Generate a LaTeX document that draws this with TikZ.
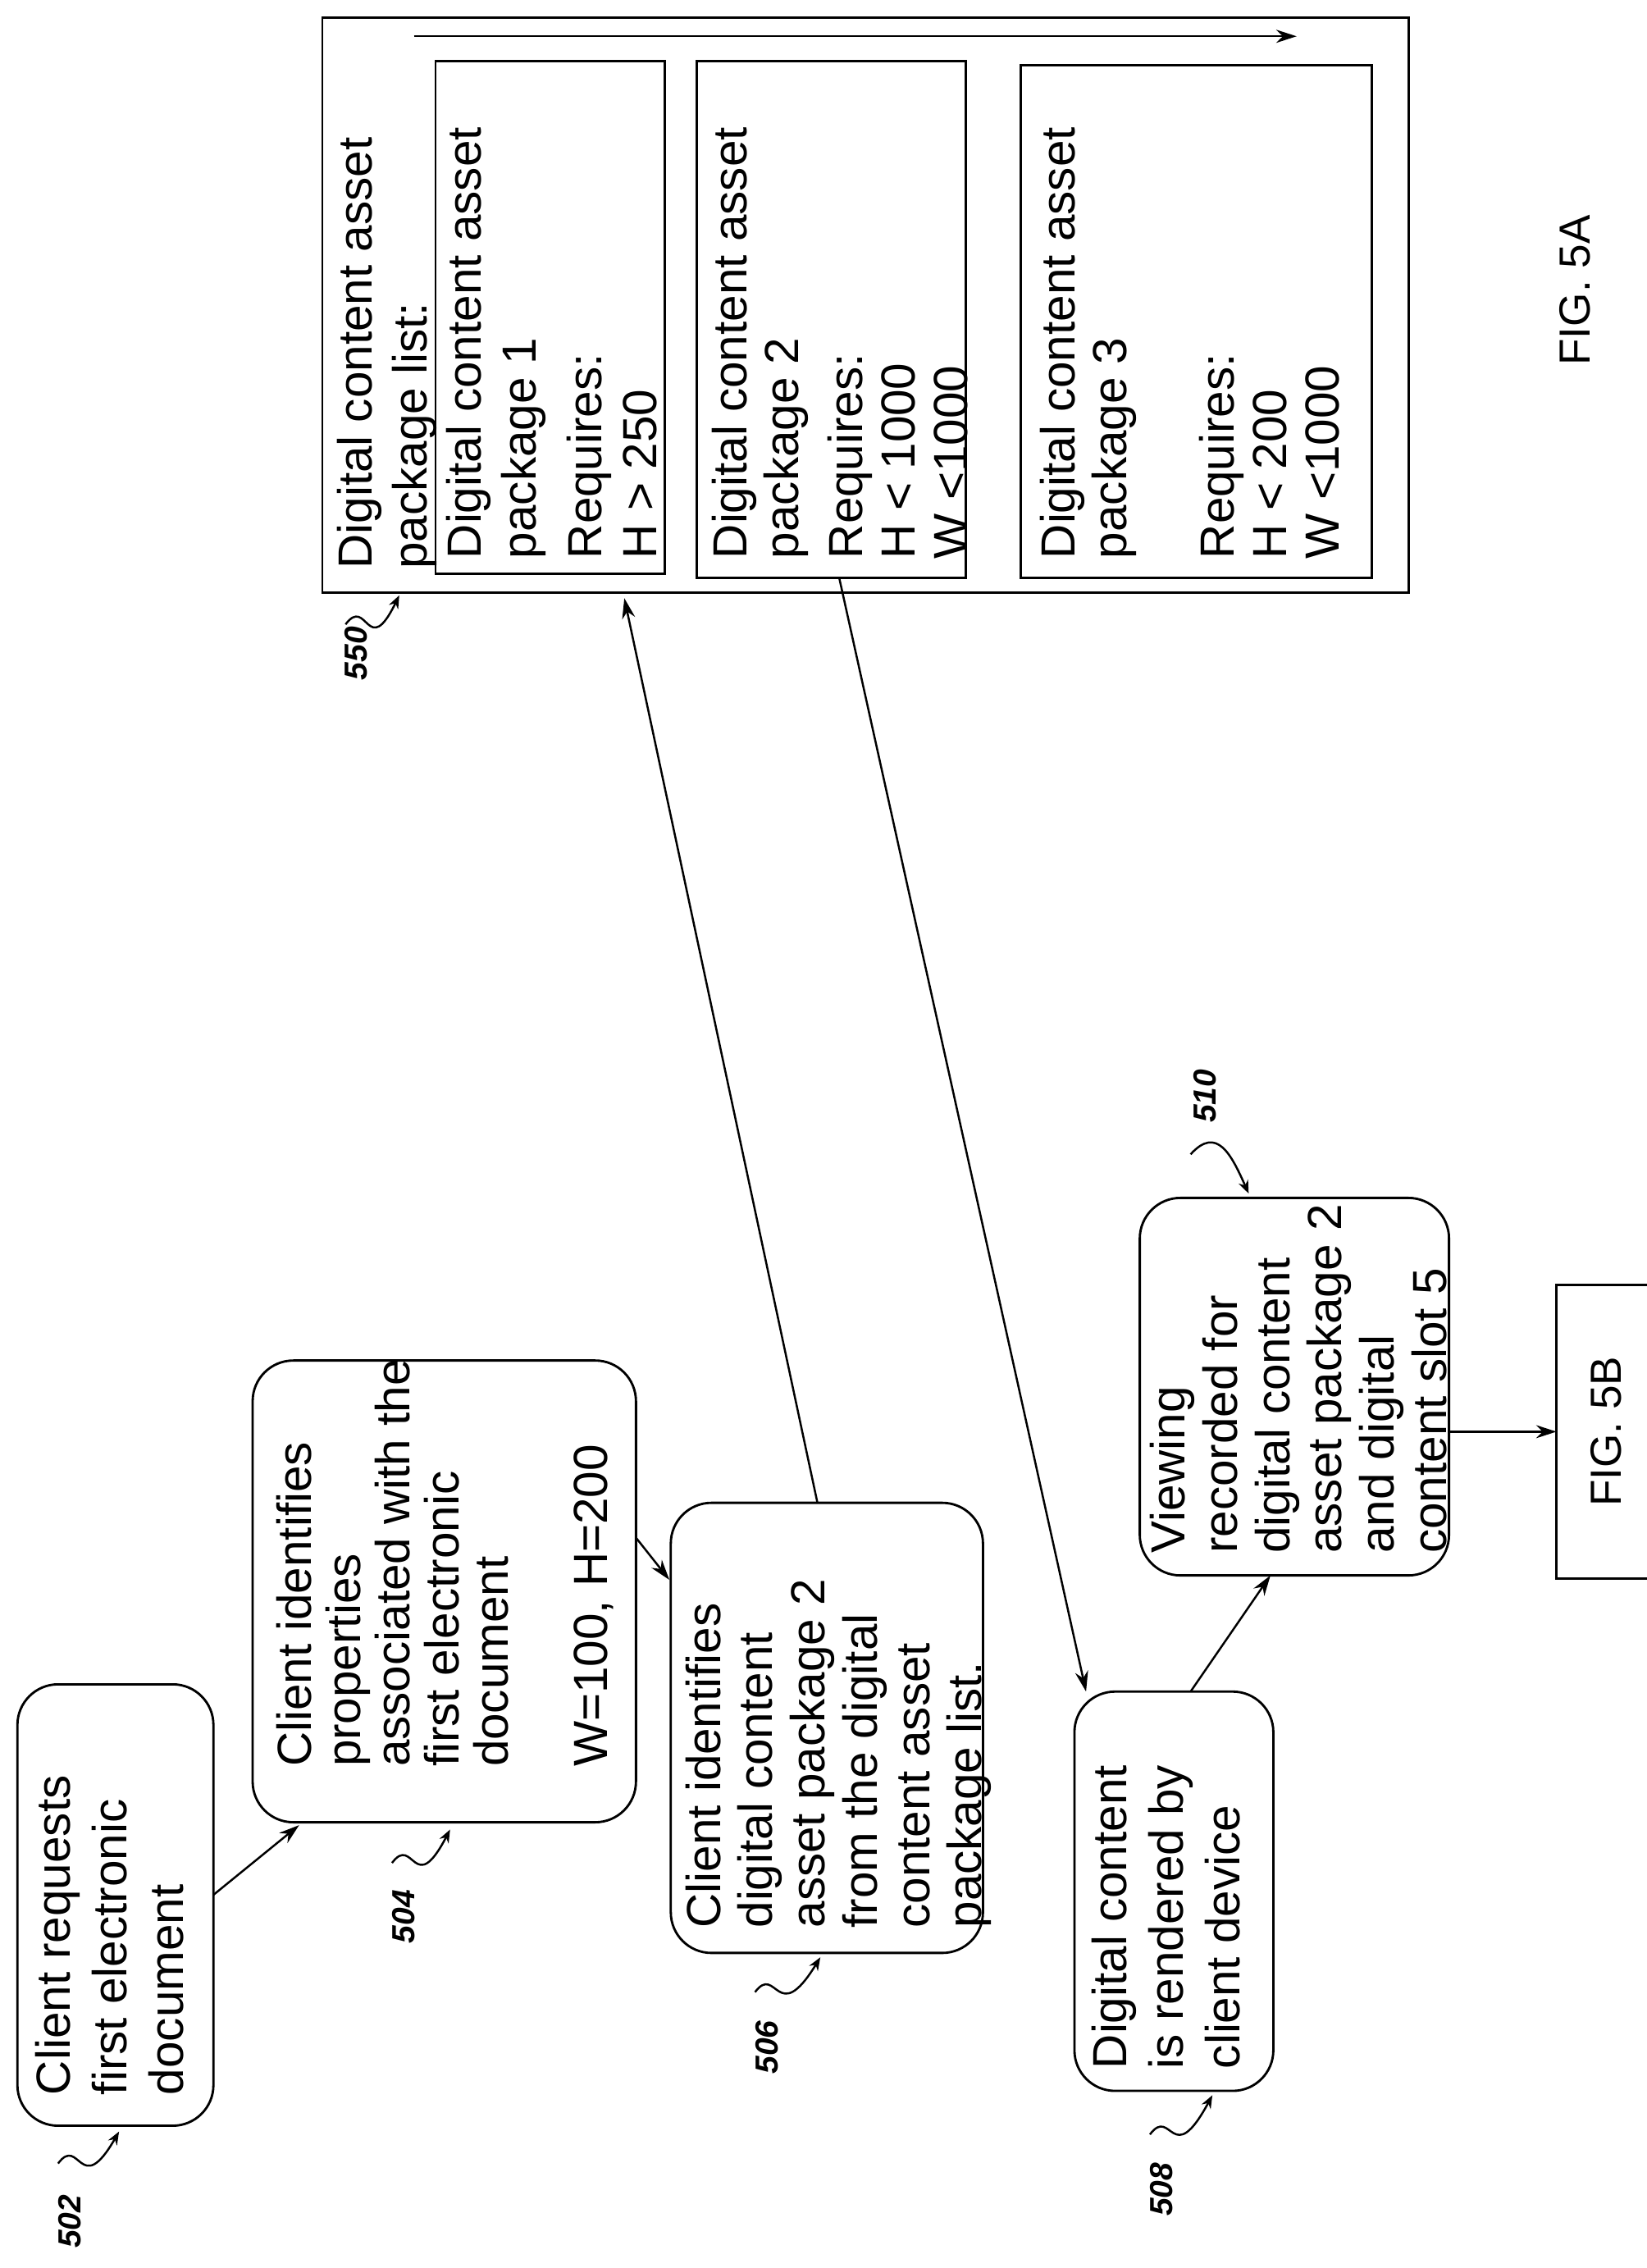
\documentclass[tikz,border=0pt]{standalone}
\usepackage{fontspec}
\setmainfont{Liberation Sans}
\usetikzlibrary{arrows.meta}
\begin{document}
\begin{tikzpicture}[x=1pt,y=-1pt,
  box/.style={draw,line width=1.6pt,rounded corners=28pt},
  tx/.style={rotate=90,anchor=north west,align=left,inner sep=0pt,font=\fontsize{33}{39}\selectfont},
  lab/.style={rotate=90,font=\fontsize{22}{24}\selectfont\bfseries\itshape},
  arr/.style={line width=1.4pt,-{Stealth[length=14pt,width=9pt]}},
  squig/.style={line width=1.4pt,-{Stealth[length=9pt,width=7pt]}}]
\useasboundingbox (0,0) rectangle (1134,1562);
% boxes
\draw[box] (12,1160) rectangle (147,1464);
\node[tx] at (24,1443) {Client requests\\first electronic\\document};
\draw[box] (174,937) rectangle (438,1255);
\node[tx,font=\fontsize{33}{34}\selectfont] at (190,1217) {Client identifies\\properties\\associated with the\\first electronic\\document\\[34pt]W=100, H=200};
\draw[box] (462,1035) rectangle (677,1345);
\node[tx,font=\fontsize{33}{36}\selectfont] at (472,1328) {Client identifies\\digital content\\asset package 2\\from the digital\\content asset\\package list.};
\draw[box] (740,1165) rectangle (877,1440);
\node[tx] at (752,1425) {Digital content\\is rendered by\\client device};
\draw[box] (785,825) rectangle (998,1085);
\node[tx,font=\fontsize{33}{36}\selectfont] at (792,1070) {Viewing\\recorded for\\digital content\\asset package 2\\and digital\\content slot 5};
\draw[line width=1.6pt] (1072,885) rectangle (1140,1087);
\node[rotate=90,font=\fontsize{30}{36}\selectfont] (f5b) at (1106,986) {FIG. 5B};
% 550
\draw[line width=1.6pt] (222,12) rectangle (970,408);
\node[tx,font=\fontsize{33}{38}\selectfont] at (232,392) {Digital content asset\\package list:};
\draw[line width=1.6pt] (300,42) rectangle (458,395);
\node[tx,font=\fontsize{33}{38}\selectfont] at (307,385) {Digital content asset\\package 1\\[7pt]Requires:\\H > 250};
\draw[line width=1.6pt] (480,42) rectangle (665,398);
\node[tx,font=\fontsize{33}{36}\selectfont] at (490,385) {Digital content asset\\package 2\\[8pt]Requires:\\H < 1000\\W <1000};
\draw[line width=1.6pt] (703,45) rectangle (945,398);
\node[tx,font=\fontsize{33}{36}\selectfont] at (716,385) {Digital content asset\\package 3\\[38pt]Requires:\\H < 200\\W <1000};
\coordinate (t1) at (285,25); \coordinate (t2) at (893,25);
\draw[arr] (t1) -- (t2);
\node[rotate=90,font=\fontsize{30}{36}\selectfont] (f5a) at (1085,200) {FIG. 5A};
% arrows
\coordinate (a1) at (147,1305); \coordinate (a2) at (206,1257);
\draw[arr] (a1) -- (a2);
\coordinate (a3) at (438,1059); \coordinate (a4) at (461,1088);
\draw[arr] (a3) -- (a4);
\coordinate (a5) at (563,1035); \coordinate (a6) at (430,412);
\draw[arr] (a5) -- (a6);
\coordinate (a7) at (578,398); \coordinate (a8) at (748,1165);
\draw[arr] (a7) -- (a8);
\coordinate (a9) at (820,1165); \coordinate (a10) at (875,1085);
\draw[arr] (a9) -- (a10);
\coordinate (a11) at (998,986); \coordinate (a12) at (1072,986);
\draw[arr] (a11) -- (a12);
% labels
\node[lab] at (48,1530) {502};
\draw[squig] (40,1490) .. controls (55,1470) and (55,1515) .. (82,1468);
\node[lab] at (278,1320) {504};
\draw[squig] (270,1283) .. controls (285,1263) and (285,1308) .. (310,1260);
\node[lab] at (528,1410) {506};
\draw[squig] (520,1372) .. controls (535,1352) and (535,1397) .. (565,1348);
\node[lab] at (800,1508) {508};
\draw[squig] (792,1470) .. controls (807,1450) and (807,1495) .. (835,1443);
\node[lab] at (830,755) {510};
\draw[squig] (820,795) .. controls (838,775) and (848,795) .. (860,822);
\node[lab] at (245,450) {550};
\draw[squig] (238,430) .. controls (253,410) and (253,455) .. (275,410);
\end{tikzpicture}
\end{document}
